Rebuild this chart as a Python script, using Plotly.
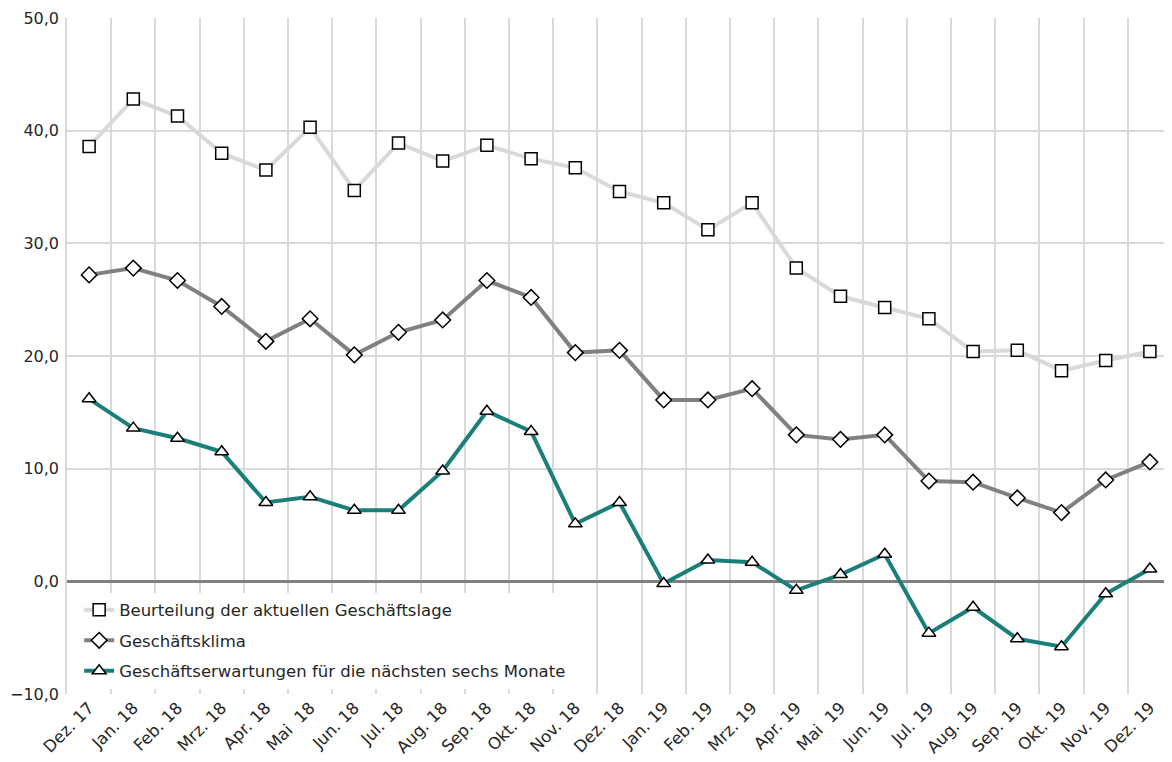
"""Geschäftsklima chart, Dez. 17 bis Dez. 19."""

import plotly.graph_objects as go

MONTHS = [
    "Dez. 17", "Jan. 18", "Feb. 18", "Mrz. 18", "Apr. 18", "Mai  18",
    "Jun. 18", "Jul. 18", "Aug. 18", "Sep. 18", "Okt. 18", "Nov. 18",
    "Dez. 18", "Jan. 19", "Feb. 19", "Mrz. 19", "Apr. 19", "Mai  19",
    "Jun. 19", "Jul. 19", "Aug. 19", "Sep. 19", "Okt. 19", "Nov. 19",
    "Dez. 19",
]

LAGE = [
    38.6, 42.8, 41.3, 38.0, 36.5, 40.3, 34.7, 38.9, 37.3, 38.7, 37.5, 36.7,
    34.6, 33.6, 31.2, 33.6, 27.8, 25.3, 24.3, 23.3, 20.4, 20.5, 18.7, 19.6,
    20.4,
]
KLIMA = [
    27.2, 27.8, 26.7, 24.4, 21.3, 23.3, 20.1, 22.1, 23.2, 26.7, 25.2, 20.3,
    20.5, 16.1, 16.1, 17.1, 13.0, 12.6, 13.0, 8.9, 8.8, 7.4, 6.1, 9.0,
    10.6,
]
ERWARTUNGEN = [
    16.2, 13.6, 12.7, 11.5, 7.0, 7.5, 6.3, 6.3, 9.8, 15.1, 13.3, 5.1,
    7.0, -0.2, 1.9, 1.7, -0.8, 0.6, 2.4, -4.6, -2.3, -5.1, -5.8, -1.1,
    1.1,
]

SERIES = [
    ("Beurteilung der aktuellen Geschäftslage", LAGE, "#d9d9d9", "square", 12),
    ("Geschäftsklima", KLIMA, "#808080", "diamond", 12),
    ("Geschäftserwartungen für die nächsten sechs Monate", ERWARTUNGEN, "#1b7f79", "triangle-up", 12),
]

FONT = "DejaVu Sans"
GRID = "#d9d9d9"
TEXT = "#262626"

fig = go.Figure()

for i, (name, values, color, symbol, size) in enumerate(SERIES):
    fig.add_trace(
        go.Scatter(
            x=MONTHS,
            y=values,
            name=name,
            mode="lines+markers",
            legendgroup=str(i),
            line={"color": color, "width": 4},
            marker={
                "symbol": symbol,
                "size": size,
                "color": "white",
                "line": {"color": "black", "width": 1.5},
            },
        )
    )

# the page body has an 8px margin, so the figure is shrunk and shifted to fit
fig.update_layout(
    width=1164,
    height=754,
    margin={"l": 59, "r": 0, "t": 10, "b": 68},
    paper_bgcolor="white",
    plot_bgcolor="white",
    font={"family": FONT, "size": 16.5, "color": TEXT},
    separators=",.",
    showlegend=True,
    legend={
        "x": 0.011,
        "y": 0.15,
        "xanchor": "left",
        "yanchor": "top",
        "bgcolor": "white",
        "font": {"size": 16.5, "color": TEXT},
        "tracegroupgap": 6,
        "traceorder": "grouped",
    },
    xaxis={
        "type": "category",
        "tickson": "boundaries",
        "showgrid": True,
        "gridcolor": GRID,
        "gridwidth": 1.5,
        "tickangle": -45,
        "ticks": "",
        "showline": False,
        "range": [-0.5, len(MONTHS) - 0.5],
    },
    yaxis={
        "range": [-10, 50],
        "dtick": 10,
        "tickformat": ".1f",
        "tickfont": {"size": 16},
        "ticklabeloverflow": "allow",
        "automargin": False,
        "showgrid": True,
        "gridcolor": GRID,
        "gridwidth": 1.5,
        "zeroline": True,
        "zerolinecolor": "#808080",
        "zerolinewidth": 2.5,
        "ticks": "outside",
        "ticklen": 3,
        "tickcolor": "white",
        "showline": True,
        "linecolor": GRID,
        "linewidth": 1.5,
    },
)

fig.write_html("out.html")
